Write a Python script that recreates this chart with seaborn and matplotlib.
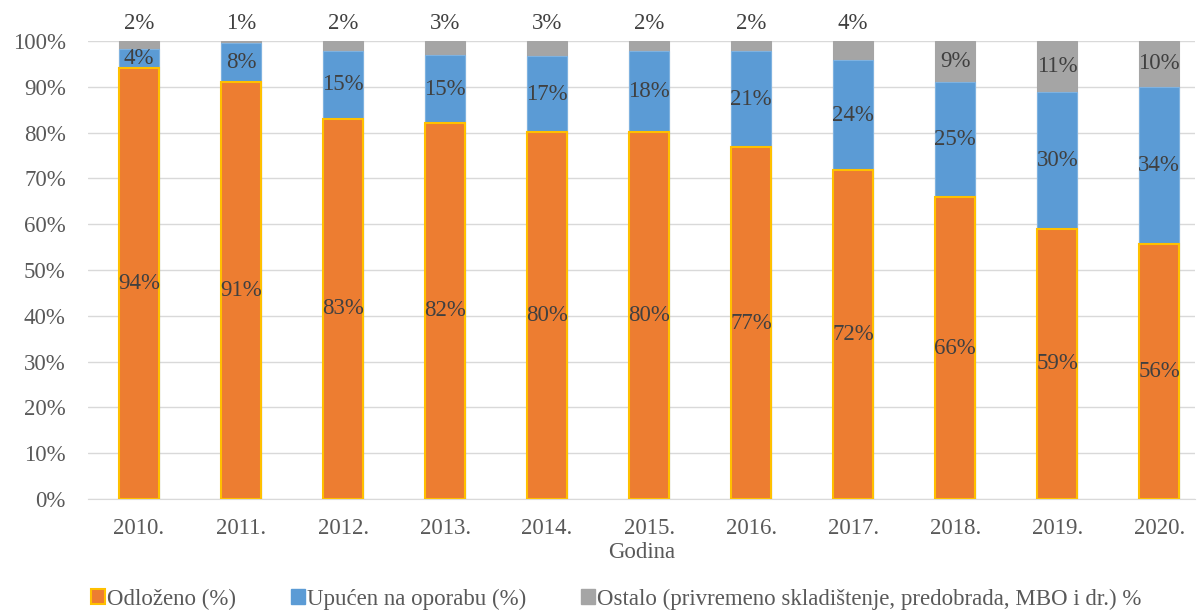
import pandas as pd
import seaborn as sns
import matplotlib.pyplot as plt
from matplotlib.patches import Patch

# 数据
godine = ['2010.', '2011.', '2012.', '2013.', '2014.', '2015.', '2016.', '2017.', '2018.', '2019.', '2020.']
odlozeno = [94.1, 91.0, 83.0, 82.1, 80.1, 80.1, 76.8, 71.8, 65.9, 59.0, 55.7]
oporaba = [4.2, 8.5, 14.8, 14.8, 16.6, 17.7, 21.0, 24.0, 25.1, 29.9, 34.3]
ostalo = [1.7, 0.5, 2.2, 3.1, 3.3, 2.2, 2.2, 4.2, 9.0, 11.1, 10.0]
lbl_odlozeno = ['94%', '91%', '83%', '82%', '80%', '80%', '77%', '72%', '66%', '59%', '56%']
lbl_oporaba = ['4%', '8%', '15%', '15%', '17%', '18%', '21%', '24%', '25%', '30%', '34%']
lbl_ostalo = ['2%', '1%', '2%', '3%', '3%', '2%', '2%', '4%', '9%', '11%', '10%']

c_orange = '#ed7d31'
c_blue = '#5b9bd5'
c_gray = '#a5a5a5'
c_text = '#404040'

df = pd.DataFrame({'godina': godine, 'odl': odlozeno, 'opo': oporaba, 'ost': ostalo})
df['s1'] = df['odl']
df['s2'] = df['odl'] + df['opo']
df['s3'] = df['s2'] + df['ost']

sns.set_style('white')
plt.rcParams['font.family'] = ['Liberation Serif', 'DejaVu Serif']

fig = plt.figure(figsize=(11.97, 6.12), dpi=100)
ax = fig.add_axes([88 / 1197, 1 - 499 / 612, (1195 - 88) / 1197, (499 - 41) / 612])

w = 0.39
# slaganje: najprije ukupno, pa preko toga manji dijelovi
sns.barplot(data=df, x='godina', y='s3', color=c_gray, width=w, saturation=1,
            edgecolor=c_gray, linewidth=0.8, ax=ax, zorder=2)
sns.barplot(data=df, x='godina', y='s2', color=c_blue, width=w, saturation=1,
            edgecolor='#7fb2e0', linewidth=0.8, ax=ax, zorder=3)
sns.barplot(data=df, x='godina', y='s1', color=c_orange, width=w, saturation=1,
            edgecolor='#ffc000', linewidth=1.5, ax=ax, zorder=4)

fs = 16.5
for i in range(len(godine)):
    ax.text(i, odlozeno[i] / 2, lbl_odlozeno[i], ha='center', va='center', fontsize=fs, color=c_text, zorder=5)
    ax.text(i, odlozeno[i] + oporaba[i] / 2, lbl_oporaba[i], ha='center', va='center', fontsize=fs, color=c_text, zorder=5)
    if ostalo[i] < 5:
        ax.text(i, 101.6, lbl_ostalo[i], ha='center', va='bottom', fontsize=fs, color=c_text, zorder=5)
    else:
        ax.text(i, df['s2'][i] + ostalo[i] / 2, lbl_ostalo[i], ha='center', va='center', fontsize=fs, color=c_text, zorder=5)

ax.set_ylim(0, 100)
ax.set_xlim(-0.5, 10.35)
ax.set_yticks(range(0, 101, 10))
ax.set_yticklabels([f'{v}%' for v in range(0, 101, 10)])
ax.yaxis.grid(True, color='#d9d9d9', linewidth=1, zorder=0)
ax.set_axisbelow(True)
for s in ['top', 'right', 'left']:
    ax.spines[s].set_visible(False)
ax.spines['bottom'].set_color('#d9d9d9')
ax.tick_params(axis='both', length=0, labelsize=fs, colors='#595959')
ax.tick_params(axis='y', pad=16)
ax.tick_params(axis='x', pad=14)
ax.set_xlabel('Godina', fontsize=fs, color='#595959', labelpad=2)
ax.set_ylabel('')

handles = [Patch(facecolor=c_orange, edgecolor='#ffc000', linewidth=1.5),
           Patch(facecolor=c_blue, edgecolor=c_blue),
           Patch(facecolor=c_gray, edgecolor=c_gray)]
labels = ['Odloženo (%)', 'Upućen na oporabu (%)', 'Ostalo (privremeno skladištenje, predobrada, MBO i dr.) %']
fig.legend(handles, labels, loc='center', bbox_to_anchor=(0.515, 1 - 599 / 612), ncol=3, frameon=False,
           fontsize=fs, handlelength=0.6, handleheight=0.6, handletextpad=0.1, columnspacing=2.4,
           labelcolor='#595959')

fig.savefig('out.png', dpi=100)
